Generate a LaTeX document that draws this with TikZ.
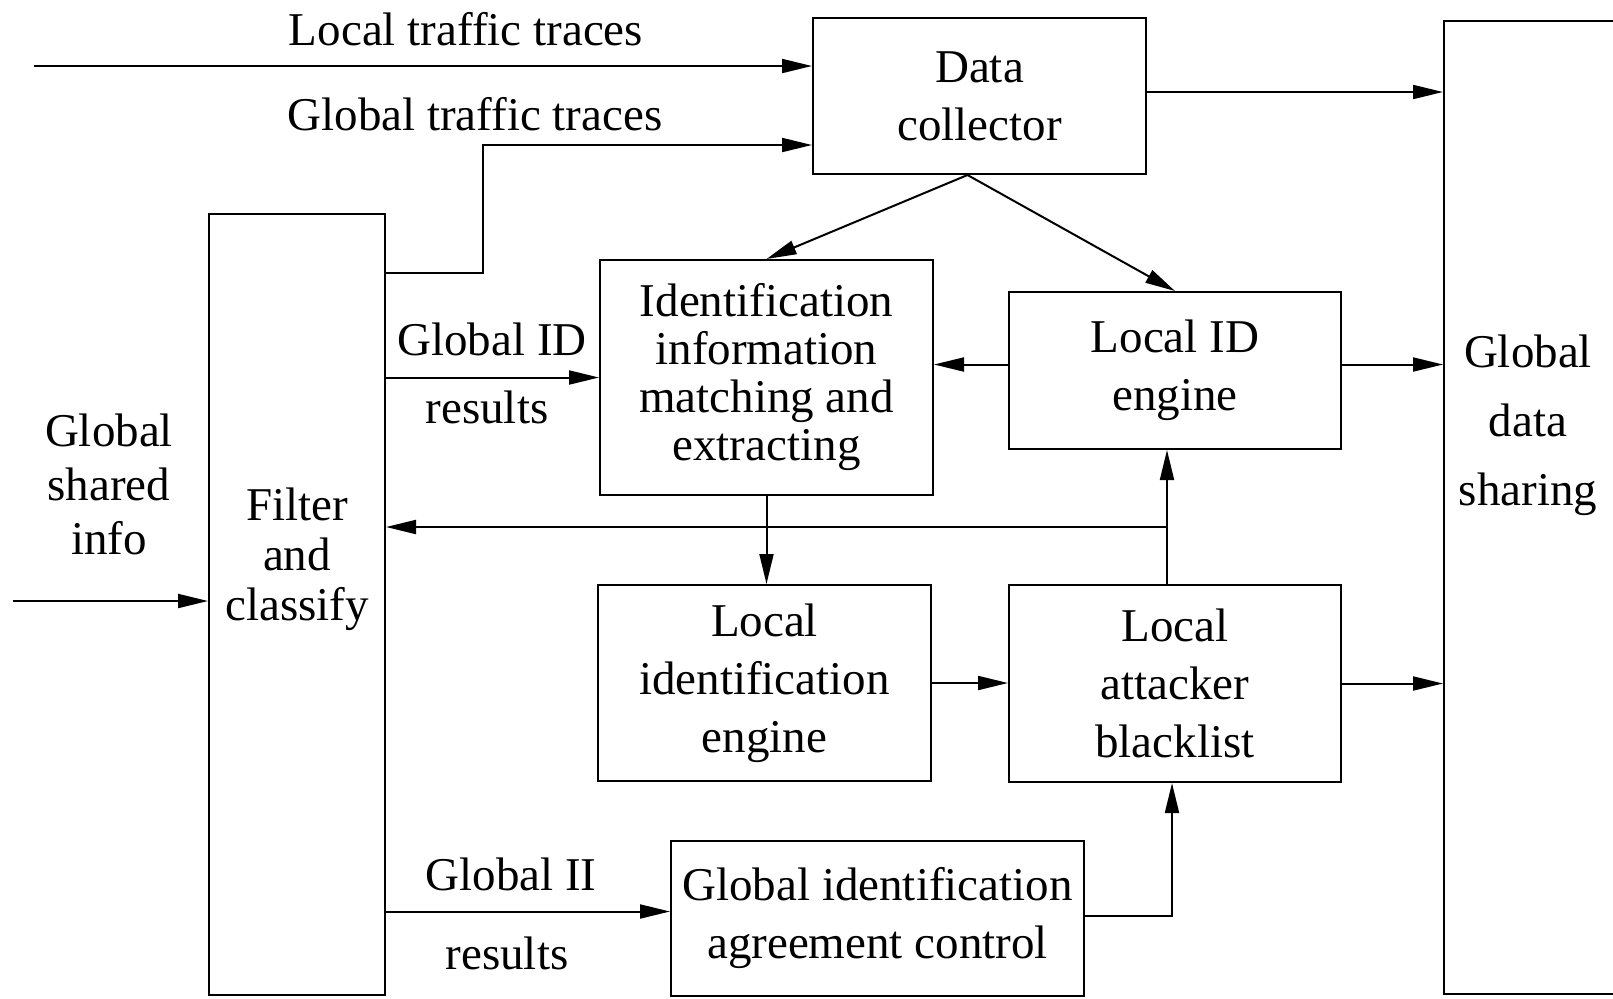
\documentclass[tikz,border=0pt]{standalone}
\usepackage{fontspec}
\setmainfont{Liberation Serif}
\usetikzlibrary{arrows.meta}

\begin{document}
\begin{tikzpicture}[x=0.5pt,y=-0.5pt,
box/.style={draw,rectangle,line width=1pt,inner sep=0pt,align=center,font=\fontsize{23.5}{29}\selectfont},
lbl/.style={inner sep=0pt,align=center,font=\fontsize{23.5}{29}\selectfont},
arr/.style={line width=1pt,-{Triangle[length=15pt,width=7pt]}}]
\useasboundingbox (0,0) rectangle (1613,998);

\node (coll) [box,minimum width=166.5pt,minimum height=78pt] at (979.5,96) {Data\\collector};
\node (gds) [box,minimum width=86pt,minimum height=486.5pt] at (1530,507.5) {};
\node (gdstext) [lbl,font=\fontsize{23.5}{34.5}\selectfont] at (1528,425) {Global\\data\\sharing};
\node (filt) [box,minimum width=88pt,minimum height=390.5pt] at (297,604.5) {};
\node (filttext) [lbl,font=\fontsize{23.5}{25}\selectfont] at (297,559) {Filter\\and\\classify};
\node (idm) [box,minimum width=166.5pt,minimum height=117.5pt,
    font=\fontsize{23.5}{24}\selectfont] at (766.5,377.5)
    {Identification\\information\\matching and\\extracting};
\node (lid) [box,minimum width=166pt,minimum height=78.5pt] at (1175,370.5) {Local ID\\engine};
\node (lie) [box,minimum width=166.5pt,minimum height=98pt] at (764.5,683) {Local\\identification\\engine};
\node (lab) [box,minimum width=166pt,minimum height=98.5pt] at (1175,683.5) {Local\\attacker\\blacklist};
\node (giac) [box,minimum width=206.5pt,minimum height=77.5pt] at (877.5,918.5)
    {Global identification\\agreement control};

\node (ltlbl) [lbl] at (466,29) {Local traffic traces};
\node (gtlbl) [lbl] at (475,114) {Global traffic traces};
\node (gidlbl) [lbl] at (492,339) {Global ID};
\node (gidres) [lbl] at (487,407) {results};
\node (giilbl) [lbl] at (511,874) {Global II};
\node (giires) [lbl] at (507,953) {results};
\node (gsilbl) [lbl,font=\fontsize{23.5}{27}\selectfont] at (109,484) {Global\\shared\\info};

\coordinate (ltin) at (34,66);
\draw[arr] (ltin) -- (ltin -| coll.west);
\draw[arr] (filt.east |- 0,273) -- (483,273) |- (coll.west |- 0,145);
\draw[arr] (coll.east |- 0,92) -- (gds.west |- 0,92);
\coordinate (collout) at ([xshift=-6pt]coll.south);
\draw[arr] (collout) -- (idm.north);
\draw[arr] (collout) -- (lid.north);
\draw[arr] (filt.east |- idm.west) -- (idm.west);
\coordinate (lidl) at ([yshift=3pt]lid.west);
\coordinate (lidr) at ([yshift=3pt]lid.east);
\draw[arr] (lidl) -- (lidl -| idm.east);
\draw[arr] (lidr) -- (lidr -| gds.west);
\coordinate (labup) at ([xshift=-4pt]lab.north);
\draw[arr] (labup) -- (labup |- lid.south);
\coordinate (fb) at (labup |- 0,527);
\draw[arr] (fb) -- (fb -| filt.east);
\draw[arr] (idm.south) -- (idm.south |- lie.north);
\draw[arr] (lie.east) -- (lie.east -| lab.west);
\draw[arr] (lab.east) -- (lab.east -| gds.west);
\coordinate (giacin) at ([yshift=3.5pt]giac.west);
\draw[arr] (giacin -| filt.east) -- (giacin);
\draw[arr] ([yshift=1.5pt]giac.east) -| ([xshift=-1.5pt]lab.south);
\coordinate (gsin) at (13,601);
\draw[arr] (gsin) -- (gsin -| filt.west);
\end{tikzpicture}
\end{document}
